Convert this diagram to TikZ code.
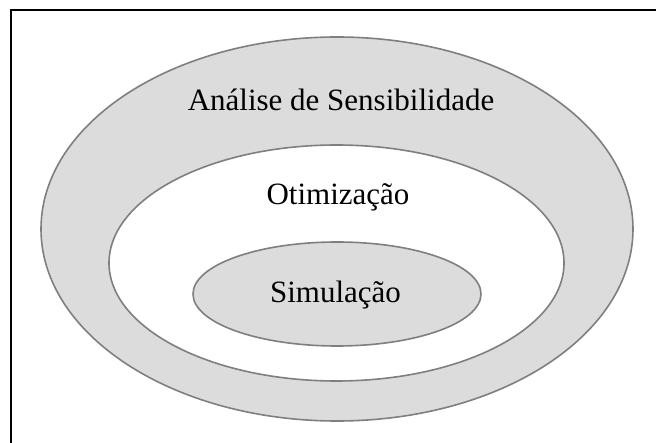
\documentclass[tikz,border=0pt]{standalone}
\usepackage{fontspec}
\setmainfont{Liberation Serif}
\usetikzlibrary{shapes.geometric}
\definecolor{ringgray}{HTML}{DCDCDC}
\definecolor{edgegray}{HTML}{7F7F7F}

\begin{document}
\begin{tikzpicture}[
    x=1pt, y=-1pt,
    ring/.style={
      ellipse, draw=edgegray, line width=1.6pt,
      inner sep=0pt, outer sep=0pt
    },
    caption/.style={anchor=base, font=\fontsize{31}{36}\selectfont}
  ]
    \useasboundingbox (0,0) rectangle (656,443);

    % frame
    \draw[line width=2pt] (10.5,443) -- (10.5,10.5) -- (656,10.5);

    % nested sets
    \node[ring, fill=ringgray, minimum width=592pt, minimum height=384pt] (sens) at (337,229) {};
    \node[ring, fill=white,    minimum width=455pt, minimum height=236pt] (otim) at (336.5,263) {};
    \node[ring, fill=ringgray, minimum width=288pt, minimum height=104pt] (simu) at (337,294) {};

    \node[caption] (sensT) at (341,111) {Análise de Sensibilidade};
    \node[caption] (otimT) at (338,205) {Otimização};
    \node[caption] (simuT) at (335.5,303) {Simulação};
  \end{tikzpicture}
\end{document}
